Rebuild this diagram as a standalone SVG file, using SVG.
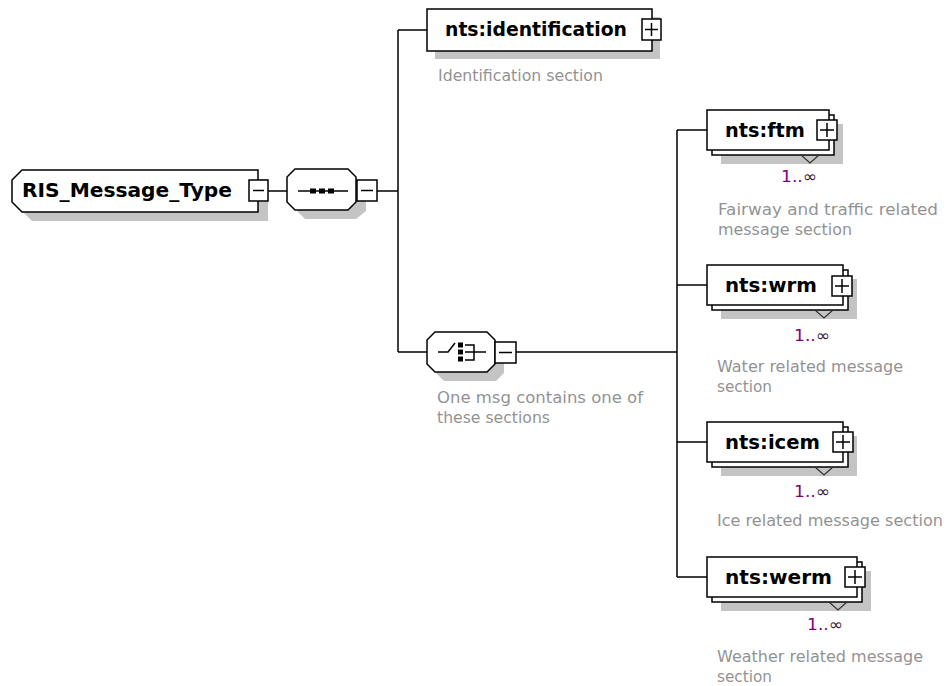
<svg xmlns="http://www.w3.org/2000/svg" width="947" height="686" viewBox="0 0 947 686">
<style>
.bg{fill:#ffffff}
.box{fill:#ffffff;stroke:#000000;stroke-width:1.5}
.shadow{fill:#c4c4c4;stroke:none}
.conn{fill:none;stroke:#000000;stroke-width:1.5}
.lbl{font-family:"DejaVu Sans","Liberation Sans",sans-serif;font-weight:bold;font-size:19px;fill:#000000}
.desc{font-family:"DejaVu Sans","Liberation Sans",sans-serif;font-size:15px;fill:#939393}
.card{font-family:"DejaVu Sans","Liberation Sans",sans-serif;font-size:16px;fill:#800080}
.icon{fill:none;stroke:#000000;stroke-width:1.5}
.dot{fill:#000000}
.vee{fill:none;stroke:#333333;stroke-width:1.2}
</style>
<rect class="bg" x="0" y="0" width="947" height="686"/>

<g id="connectors">
  <line class="conn" x1="268" y1="191" x2="287" y2="191"/>
  <line class="conn" x1="377" y1="191" x2="398" y2="191"/>
  <line class="conn" x1="398" y1="30" x2="398" y2="352"/>
  <line class="conn" x1="398" y1="30" x2="427" y2="30"/>
  <line class="conn" x1="398" y1="352" x2="427" y2="352"/>
  <line class="conn" x1="516" y1="352" x2="677" y2="352"/>
  <line class="conn" x1="677" y1="130" x2="677" y2="577"/>
  <line class="conn" x1="677" y1="130" x2="707" y2="130"/>
  <line class="conn" x1="677" y1="285" x2="707" y2="285"/>
  <line class="conn" x1="677" y1="442" x2="707" y2="442"/>
  <line class="conn" x1="677" y1="577" x2="707" y2="577"/>
</g>

<g id="root">
  <polygon class="shadow" points="32,179 268,179 268,221 32,221 22,211 22,189"/>
  <polygon class="box" points="22,170 258,170 258,212 22,212 12,202 12,180"/>
  <text class="lbl" x="22" y="197" textLength="210" lengthAdjust="spacingAndGlyphs">RIS_Message_Type</text>
  <rect class="box" x="249" y="180" width="19" height="21"/>
  <line class="icon" x1="253" y1="190.5" x2="264" y2="190.5"/>
</g>

<g id="sequence">
  <polygon class="shadow" points="305,178 356,178 366,186 366,211 356,219 305,219 297,211 297,186"/>
  <polygon class="box" points="295,169 348,169 356,177 356,202 348,210 295,210 287,202 287,177"/>
  <line class="icon" x1="298" y1="191" x2="348" y2="191"/>
  <rect class="dot" x="310" y="188.5" width="6" height="5"/>
  <rect class="dot" x="319" y="188.5" width="6" height="5"/>
  <rect class="dot" x="328" y="188.5" width="6" height="5"/>
  <rect class="box" x="357" y="180" width="20" height="21"/>
  <line class="icon" x1="361" y1="190.5" x2="373" y2="190.5"/>
</g>

<g id="identification">
  <rect class="shadow" x="435" y="17" width="225" height="42"/>
  <rect class="box" x="427" y="9" width="225" height="42"/>
  <text class="lbl" x="445" y="36" textLength="182" lengthAdjust="spacingAndGlyphs">nts:identification</text>
  <rect class="box" x="642" y="19" width="19" height="21"/>
  <line class="icon" x1="645" y1="29.5" x2="658" y2="29.5"/>
  <line class="icon" x1="651.5" y1="23" x2="651.5" y2="36"/>
  <text class="desc" x="438" y="81" textLength="165" lengthAdjust="spacingAndGlyphs">Identification section</text>
</g>

<g id="choice">
  <polygon class="shadow" points="444,341 496,341 504,349 504,373 496,381 444,381 436,373 436,349"/>
  <polygon class="box" points="435,332 487,332 495,340 495,364 487,372 435,372 427,364 427,340"/>
  <polyline class="icon" points="438,352 448,352 455,343"/>
  <rect class="dot" x="458" y="342.5" width="5" height="5"/>
  <rect class="dot" x="458" y="349.5" width="5" height="5"/>
  <rect class="dot" x="458" y="356.5" width="5" height="5"/>
  <polyline class="icon" points="465,345 474,345 474,360 465,360"/>
  <line class="icon" x1="465" y1="352" x2="486" y2="352"/>
  <rect class="box" x="495" y="342" width="21" height="21"/>
  <line class="icon" x1="499" y1="352.5" x2="512" y2="352.5"/>
  <text class="desc" x="437" y="403" textLength="206" lengthAdjust="spacingAndGlyphs">One msg contains one of</text>
  <text class="desc" x="437" y="423" textLength="113" lengthAdjust="spacingAndGlyphs">these sections</text>
</g>

<g id="ftm">
  <rect class="shadow" x="721" y="124" width="122" height="40"/>
  <rect class="box" x="712" y="115" width="122" height="40"/>
  <rect class="box" x="707" y="110" width="122" height="40"/>
  <polyline class="vee" points="801,155 810,163 819,155"/>
  <text class="lbl" x="725" y="137" textLength="80" lengthAdjust="spacingAndGlyphs">nts:ftm</text>
  <rect class="box" x="817" y="120" width="20" height="20"/>
  <line class="icon" x1="820" y1="130" x2="834" y2="130"/>
  <line class="icon" x1="827" y1="123" x2="827" y2="137"/>
  <text class="card" x="817" y="182" text-anchor="end" textLength="36" lengthAdjust="spacingAndGlyphs">1..<tspan fill="#3a1a3a">∞</tspan></text>
  <text class="desc" x="718" y="215" textLength="220" lengthAdjust="spacingAndGlyphs">Fairway and traffic related</text>
  <text class="desc" x="718" y="235" textLength="134" lengthAdjust="spacingAndGlyphs">message section</text>
</g>

<g id="wrm">
  <rect class="shadow" x="721" y="279" width="136" height="40"/>
  <rect class="box" x="712" y="270" width="136" height="40"/>
  <rect class="box" x="707" y="265" width="136" height="40"/>
  <polyline class="vee" points="815,310 824,318 833,310"/>
  <text class="lbl" x="725" y="292" textLength="92" lengthAdjust="spacingAndGlyphs">nts:wrm</text>
  <rect class="box" x="832" y="276" width="20" height="20"/>
  <line class="icon" x1="835" y1="286" x2="849" y2="286"/>
  <line class="icon" x1="842" y1="279" x2="842" y2="293"/>
  <text class="card" x="830" y="341" text-anchor="end" textLength="36" lengthAdjust="spacingAndGlyphs">1..<tspan fill="#3a1a3a">∞</tspan></text>
  <text class="desc" x="717" y="372" textLength="186" lengthAdjust="spacingAndGlyphs">Water related message</text>
  <text class="desc" x="717" y="392" textLength="55" lengthAdjust="spacingAndGlyphs">section</text>
</g>

<g id="icem">
  <rect class="shadow" x="721" y="436" width="136" height="40"/>
  <rect class="box" x="712" y="427" width="136" height="40"/>
  <rect class="box" x="707" y="422" width="136" height="40"/>
  <polyline class="vee" points="815,467 824,475 833,467"/>
  <text class="lbl" x="725" y="449" textLength="95" lengthAdjust="spacingAndGlyphs">nts:icem</text>
  <rect class="box" x="833" y="432" width="20" height="20"/>
  <line class="icon" x1="836" y1="442" x2="850" y2="442"/>
  <line class="icon" x1="843" y1="435" x2="843" y2="449"/>
  <text class="card" x="830" y="497" text-anchor="end" textLength="36" lengthAdjust="spacingAndGlyphs">1..<tspan fill="#3a1a3a">∞</tspan></text>
  <text class="desc" x="717" y="526" textLength="226" lengthAdjust="spacingAndGlyphs">Ice related message section</text>
</g>

<g id="werm">
  <rect class="shadow" x="721" y="571" width="150" height="40"/>
  <rect class="box" x="712" y="562" width="150" height="40"/>
  <rect class="box" x="707" y="557" width="150" height="40"/>
  <polyline class="vee" points="829,602 838,610 847,602"/>
  <text class="lbl" x="725" y="584" textLength="107" lengthAdjust="spacingAndGlyphs">nts:werm</text>
  <rect class="box" x="845" y="567" width="20" height="20"/>
  <line class="icon" x1="848" y1="577" x2="862" y2="577"/>
  <line class="icon" x1="855" y1="570" x2="855" y2="584"/>
  <text class="card" x="843" y="630" text-anchor="end" textLength="36" lengthAdjust="spacingAndGlyphs">1..<tspan fill="#3a1a3a">∞</tspan></text>
  <text class="desc" x="717" y="662" textLength="206" lengthAdjust="spacingAndGlyphs">Weather related message</text>
  <text class="desc" x="717" y="682" textLength="55" lengthAdjust="spacingAndGlyphs">section</text>
</g>
</svg>
